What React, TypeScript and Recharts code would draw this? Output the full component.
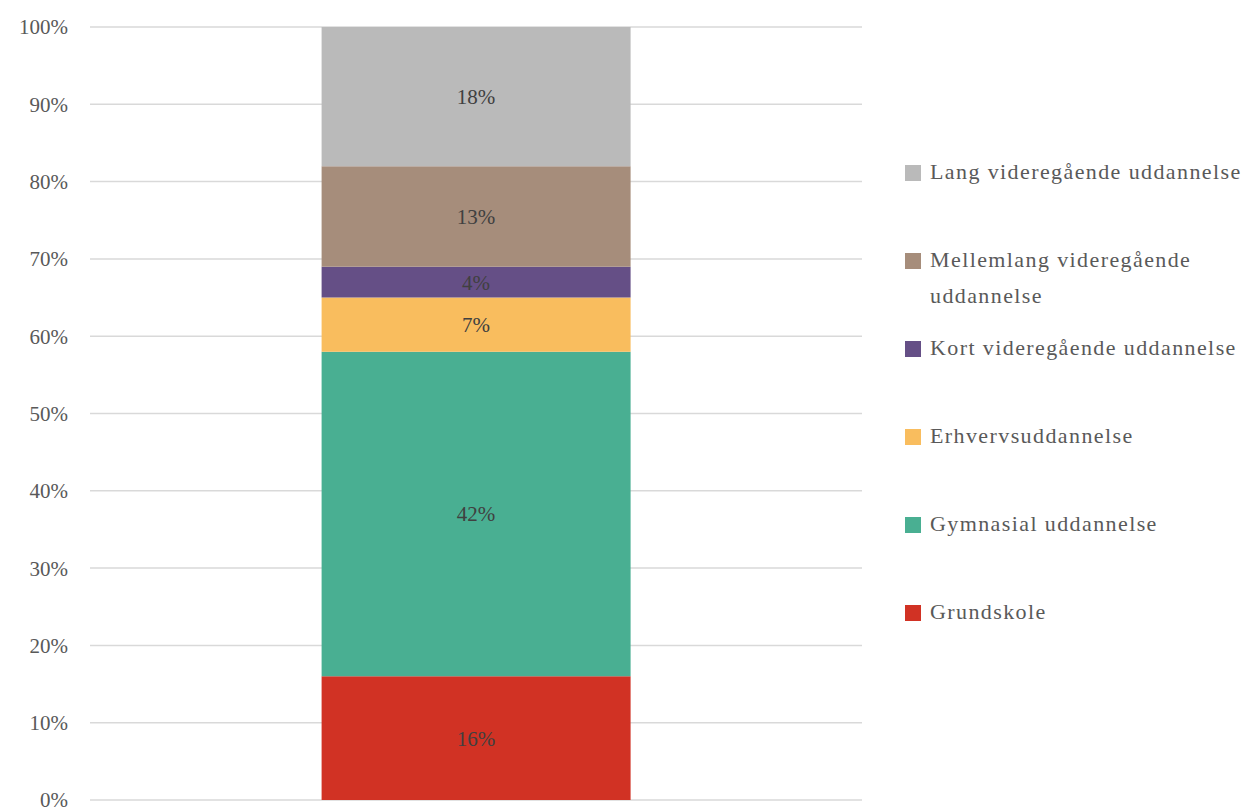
import React from 'react';
import { BarChart, Bar, YAxis, XAxis, CartesianGrid, LabelList } from 'recharts';

// segments, bottom to top
const categories = ['Uddannelse'];
const seriesNames = [
  'Grundskole',
  'Gymnasial uddannelse',
  'Erhvervsuddannelse',
  'Kort videregående uddannelse',
  'Mellemlang videregående uddannelse',
  'Lang videregående uddannelse'
];
const seriesValues = [16, 42, 7, 4, 13, 18];
const seriesColors = ['#d13224', '#49af92', '#f9bd5e', '#654f86', '#a68d7b', '#bababa'];
const yTicks = [0, 10, 20, 30, 40, 50, 60, 70, 80, 90, 100];

const data = categories.map(name => {
  const row: Record<string, string | number> = { name };
  seriesNames.forEach((s, i) => {
    row[s] = seriesValues[i];
  });
  return row;
});

const FONT = '"Liberation Serif", "DejaVu Serif", serif';

// legend drawn next to the plot, top item = top segment
function ChartLegend() {
  const items = seriesNames.map((s, i) => ({ name: s, color: seriesColors[i] })).reverse();
  return (
    <div style={{ position: 'absolute', left: 905, top: 154, width: 355, fontFamily: FONT }}>
      {items.map(item => (
        <div key={item.name} style={{ height: 88, display: 'flex', alignItems: 'flex-start' }}>
          <span
            style={{
              display: 'inline-block',
              width: 16,
              height: 16,
              marginTop: 11,
              marginRight: 9,
              background: item.color,
              flexShrink: 0
            }}
          />
          <span style={{ color: '#595959', fontSize: 22, lineHeight: '36px', letterSpacing: 1.4, width: 326 }}>
            {item.name}
          </span>
        </div>
      ))}
    </div>
  );
}

export default function App() {
  return (
    <div style={{ position: 'absolute', left: 0, top: 0, width: 1260, height: 807, background: '#fff' }}>
      <BarChart
        width={1260}
        height={807}
        data={data}
        barCategoryGap="30%"
        margin={{ top: 27, right: 398, left: 10, bottom: 7 }}
      >
        <CartesianGrid vertical={false} stroke="#d9d9d9" strokeWidth={1.5} />
        <XAxis dataKey="name" hide />
        <YAxis
          domain={[0, 100]}
          ticks={yTicks}
          interval={0}
          width={80}
          axisLine={false}
          tickLine={false}
          tickMargin={16}
          tickFormatter={(v) => `${v}%`}
          tick={{ fill: '#595959', fontSize: 21, fontFamily: FONT }}
        />
        {seriesNames.map((s, i) => (
          <Bar key={s} dataKey={s} stackId="a" fill={seriesColors[i]} isAnimationActive={false}>
            <LabelList
              dataKey={s}
              position="center"
              fill="#404040"
              fontSize={21}
              fontFamily={FONT}
              formatter={(v: any) => `${v}%`}
            />
          </Bar>
        ))}
      </BarChart>
      <ChartLegend />
    </div>
  );
}
